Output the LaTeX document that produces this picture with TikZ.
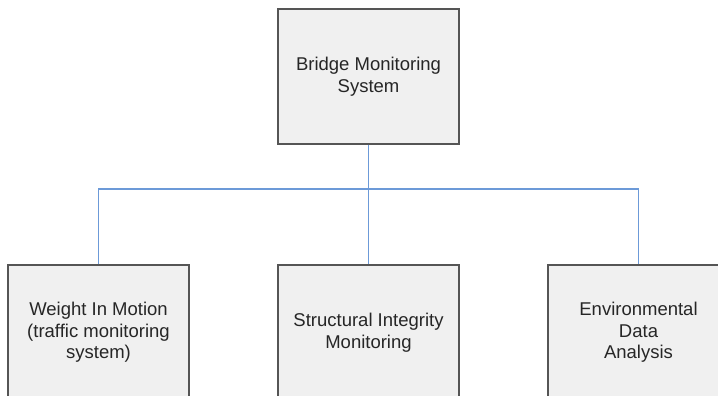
\documentclass[tikz,border=0pt]{standalone}
\usepackage{fontspec}
\setmainfont{Liberation Sans}
\definecolor{boxfill}{HTML}{F0F0F0}
\definecolor{boxline}{HTML}{555555}
\definecolor{linkblue}{HTML}{6C9AD8}
\begin{document}
\begin{tikzpicture}[x=1pt,y=-1pt,
  unit/.style={draw=boxline, line width=1.3pt, fill=boxfill,
    minimum width=181pt, minimum height=135pt, inner sep=0pt,
    align=center, font=\fontsize{18.5}{21.5}\selectfont, text=black!85},
  link/.style={draw=linkblue, line width=1.2pt}]
\useasboundingbox (0,0) rectangle (718,396);
\node[unit] (root) at (368.5,76.5) {Bridge Monitoring\\System};
\node[unit] (wim) at (98.5,332.5) {Weight In Motion\\(traffic monitoring\\system)};
\node[unit] (sim) at (368.5,332.5) {Structural Integrity\\Monitoring};
\node[unit] (env) at (638.5,332.5) {Environmental\\Data\\Analysis};
\coordinate (bus) at (368.5,189);
\draw[link] (root.south) -- (sim.north);
\draw[link] (wim.north) |- (bus) -| (env.north);
\end{tikzpicture}
\end{document}
